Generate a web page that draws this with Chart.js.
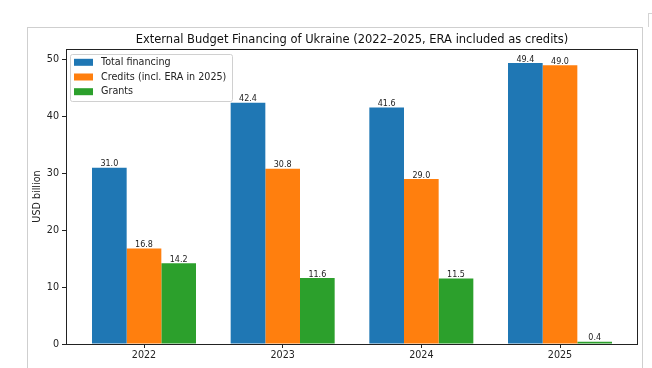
<!DOCTYPE html>
<html>
<head>
<meta charset="utf-8">
<script src="https://cdn.jsdelivr.net/npm/chart.js@4"></script>
<style>
  html, body { margin: 0; padding: 0; background: #fff; }
  #wrap { position: relative; width: 652px; height: 368px; overflow: hidden; }
  #frame { position: absolute; left: 27px; top: 27px; width: 616px; height: 345px; border: 1px solid #cfcfcf; box-sizing: border-box; }
  #mark { position: absolute; left: 648px; top: 13px; width: 10px; height: 14px; border-left: 1px solid #d4d4d4; border-top: 1px solid #d4d4d4; box-sizing: border-box; }
  canvas { position: absolute; left: 0; top: 0; }
</style>
</head>
<body>
<div id="wrap">
  <div id="frame"></div>
  <div id="mark"></div>
  <canvas id="c" width="652" height="368"></canvas>
</div>
<script>
const years = ['2022', '2023', '2024', '2025'];
const totalFinancing = [31.0, 42.4, 41.6, 49.4];
const credits = [16.8, 30.8, 29.0, 49.0];
const grants = [14.2, 11.6, 11.5, 0.4];
const yTicks = [0, 10, 20, 30, 40, 50];
const seriesLabels = ['Total financing', 'Credits (incl. ERA in 2025)', 'Grants'];
const titleText = 'External Budget Financing of Ukraine (2022\u20132025, ERA included as credits)';
const yTitle = 'USD billion';

const colors = ['#1f77b4', '#ff7f0e', '#2ca02c'];
const FONT = 'DejaVu Sans';
const toPts = arr => arr.map((v, i) => ({ x: i, y: v }));

const overlay = {
  id: 'overlay',
  afterDraw(chart) {
    const ctx = chart.ctx;
    const a = chart.chartArea;
    ctx.save();
    // spines
    ctx.strokeStyle = '#222';
    ctx.lineWidth = 1;
    ctx.strokeRect(Math.round(a.left) + 0.5, Math.round(a.top) + 0.5,
                   Math.round(a.right - a.left) - 1, Math.round(a.bottom - a.top));
    // title
    ctx.fillStyle = '#111';
    ctx.font = '11.5px "' + FONT + '"';
    ctx.textAlign = 'center';
    ctx.textBaseline = 'middle';
    ctx.fillText(titleText, (a.left + a.right) / 2, 40);
    // y title
    ctx.save();
    ctx.translate(37, (a.top + a.bottom) / 2);
    ctx.rotate(-Math.PI / 2);
    ctx.font = '9.6px "' + FONT + '"';
    ctx.fillStyle = '#222';
    ctx.fillText(yTitle, 0, 0);
    ctx.restore();
    // value labels
    ctx.font = '8px "' + FONT + '"';
    ctx.fillStyle = '#222';
    ctx.textAlign = 'center';
    ctx.textBaseline = 'alphabetic';
    chart.data.datasets.forEach((ds, di) => {
      const meta = chart.getDatasetMeta(di);
      meta.data.forEach((bar, i) => {
        ctx.fillText(ds.data[i].y.toFixed(1), bar.x, bar.y - 1.5);
      });
    });
    // legend
    const lx = 70, ly = 54, lw = 162, lh = 47;
    ctx.fillStyle = 'rgba(255,255,255,0.85)';
    ctx.strokeStyle = '#d0d0d0';
    ctx.lineWidth = 1;
    ctx.beginPath();
    ctx.roundRect(lx + 0.5, ly + 0.5, lw, lh, 2);
    ctx.fill();
    ctx.stroke();
    ctx.font = '9.6px "' + FONT + '"';
    ctx.textAlign = 'left';
    ctx.textBaseline = 'middle';
    chart.data.datasets.forEach((ds, di) => {
      const cy = 62.3 + di * 14.7;
      ctx.fillStyle = ds.backgroundColor;
      ctx.fillRect(74, cy - 3.5, 19, 7);
      ctx.fillStyle = '#222';
      ctx.fillText(ds.label, 101, cy);
    });
    ctx.restore();
  }
};

new Chart(document.getElementById('c'), {
  type: 'bar',
  data: {
    datasets: [
      { label: seriesLabels[0], data: toPts(totalFinancing), backgroundColor: colors[0] },
      { label: seriesLabels[1], data: toPts(credits), backgroundColor: colors[1] },
      { label: seriesLabels[2], data: toPts(grants), backgroundColor: colors[2] }
    ]
  },
  options: {
    responsive: false,
    animation: false,
    devicePixelRatio: 1,
    layout: { padding: { left: 0, top: 49, right: 14, bottom: 0 } },
    datasets: { bar: { categoryPercentage: 0.75, barPercentage: 1.0, borderWidth: 0 } },
    plugins: { legend: { display: false }, tooltip: { enabled: false }, title: { display: false } },
    scales: {
      x: {
        type: 'linear',
        min: -0.5625,
        max: 3.5625,
        offset: false,
        afterBuildTicks: s => { s.ticks = years.map((_, i) => ({ value: i })); },
        afterFit: s => { s.height = 24; },
        grid: { display: true, offset: false, drawOnChartArea: false, drawTicks: true, tickLength: 4, color: '#222' },
        border: { display: false },
        ticks: {
          callback: v => years[v] ?? '',
          color: '#222',
          font: { family: FONT, size: 9.6 },
          padding: 2,
          maxRotation: 0,
          autoSkip: false
        }
      },
      y: {
        min: 0,
        max: 51.87,
        afterBuildTicks: s => { s.ticks = yTicks.map(v => ({ value: v })); },
        afterFit: s => { s.width = 66; },
        grid: { display: true, drawOnChartArea: false, drawTicks: true, tickLength: 4, color: '#222' },
        border: { display: false },
        ticks: {
          color: '#222',
          font: { family: FONT, size: 9.6 },
          padding: 3
        }
      }
    }
  },
  plugins: [overlay]
});
</script>
</body>
</html>
